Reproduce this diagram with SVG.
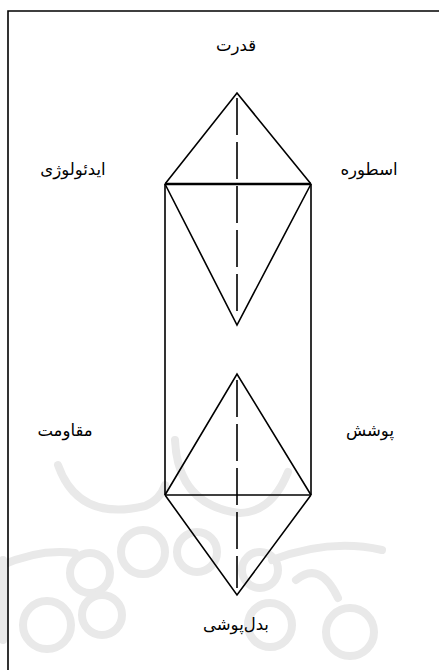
<svg xmlns="http://www.w3.org/2000/svg" width="439" height="670" viewBox="0 0 439 670">
<style>
.ln{stroke:#000;stroke-width:1.6;fill:none;stroke-linejoin:miter}
.dash{stroke:#000;stroke-width:1.6;fill:none;stroke-dasharray:37 7}
.wm{stroke:#e9e9e9;stroke-width:8;fill:none;stroke-linecap:round}
.lbl{font-family:"DejaVu Sans","Noto Sans",sans-serif;font-size:16.5px;fill:#000;text-anchor:middle}
</style>
<rect width="439" height="670" fill="#fff"/>
<g id="watermark">
<path class="wm" d="M58 465 Q78 522 145 506 Q160 500 165 485"/>
<path class="wm" d="M175 440 Q178 506 240 513 Q272 512 288 472"/>
<path class="wm" d="M0 566 Q40 548 75 553"/>
<path class="wm" d="M272 560 Q330 538 382 550"/>
<path class="wm" d="M296 580 Q320 560 338 598"/>
<circle class="wm" cx="143" cy="552" r="22"/>
<circle class="wm" cx="90" cy="573" r="20"/>
<circle class="wm" cx="197" cy="552" r="20"/>
<circle class="wm" cx="47" cy="625" r="24"/>
<circle class="wm" cx="102" cy="615" r="20"/>
<circle class="wm" cx="260" cy="570" r="18"/>
<circle class="wm" cx="270" cy="625" r="22"/>
<circle class="wm" cx="350" cy="632" r="24"/>
<path class="wm" d="M3 560 L3 640"/>
</g>
<g id="frame">
<path class="ln" d="M8 670 L8 11 L439 11"/>
</g>
<g id="connectors">
<path class="ln" d="M165 184 L237 93 L311 184"/>
<path class="ln" style="stroke-width:2.6" d="M165 184 L311 184"/>
<path class="ln" d="M165 184 L237 325 L311 184"/>
<path class="ln" d="M165 184 L165 495 M311 184 L311 495"/>
<path class="ln" d="M165 495 L237 374 L311 495"/>
<path class="ln" d="M165 495 L311 495"/>
<path class="ln" d="M165 495 L237 595 L311 495"/>
<path class="dash" d="M237 98 L237 314"/>
<path class="dash" d="M237 380 L237 588"/>
</g>
<g id="n-qodrat"><text class="lbl" x="236" y="51">قدرت</text></g>
<g id="n-ideology"><text class="lbl" x="73" y="175">ایدئولوژی</text></g>
<g id="n-ostoure"><text class="lbl" x="369" y="175">اسطوره</text></g>
<g id="n-moghavemat"><text class="lbl" x="65" y="436">مقاومت</text></g>
<g id="n-pooshesh"><text class="lbl" x="370" y="436">پوشش</text></g>
<g id="n-badalpooshi"><text class="lbl" x="236" y="630">بدل‌پوشی</text></g>
</svg>
